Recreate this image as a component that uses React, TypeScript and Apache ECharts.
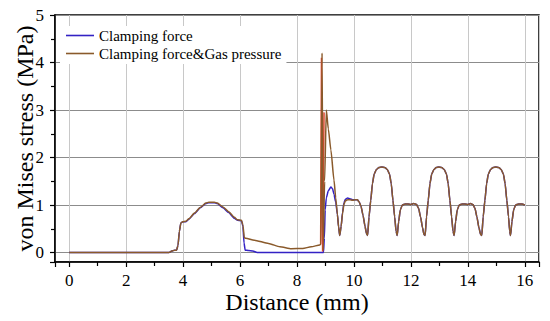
import React, { useEffect, useRef } from "react";
import * as echarts from "echarts";

const seriesNames = ["Clamping force", "Clamping force&Gas pressure"];
const xTicks = [0, 2, 4, 6, 8, 10, 12, 14, 16];
const yTicks = [0, 1, 2, 3, 4, 5];

// Clamping force only (blue), up to the first plateau
const clampingHead: [number, number][] = [
  [0, 0], [3.5, 0], [3.6, 0.03], [3.7, 0.05], [3.77, 0.05], [3.82, 0.15], [3.87, 0.45], [3.92, 0.62],
  [3.98, 0.645], [4.1, 0.65], [4.2, 0.7], [4.4, 0.82], [4.6, 0.94], [4.8, 1.03], [4.9, 1.05], [5.1, 1.05],
  [5.2, 1.03], [5.4, 0.94], [5.6, 0.84], [5.8, 0.72], [5.9, 0.68], [6.05, 0.67], [6.1, 0.55], [6.14, 0.2],
  [6.18, 0.05], [6.3, 0.04], [6.45, 0.03], [6.6, 0.0], [8.93, 0.0], [8.96, 0.3], [8.99, 0.9], [9.03, 1.15],
  [9.1, 1.3], [9.19, 1.38], [9.25, 1.34], [9.3, 1.22], [9.36, 1.06], [9.42, 0.8], [9.46, 0.54], [9.5, 0.36],
  [9.55, 0.55], [9.6, 0.85], [9.65, 1.05], [9.7, 1.12], [9.78, 1.15], [9.86, 1.13], [9.95, 1.11],
];

// Clamping force & gas pressure (brown), up to the first plateau
const gasHead: [number, number][] = [
  [0, 0], [3.5, 0], [3.6, 0.03], [3.7, 0.05], [3.77, 0.05], [3.82, 0.15], [3.87, 0.45], [3.92, 0.62],
  [3.98, 0.645], [4.1, 0.66], [4.2, 0.71], [4.4, 0.83], [4.6, 0.95], [4.8, 1.04], [4.9, 1.06], [5.1, 1.06],
  [5.2, 1.04], [5.4, 0.96], [5.6, 0.86], [5.8, 0.74], [5.9, 0.69], [6.05, 0.68], [6.1, 0.58], [6.15, 0.31],
  [6.2, 0.3], [6.5, 0.26], [7.0, 0.19], [7.4, 0.12], [7.8, 0.08], [8.2, 0.085], [8.5, 0.12], [8.8, 0.16],
  [8.84, 0.18], [8.88, 4.2], [8.92, 0.05], [8.97, 1.5], [9.03, 3.0], [9.1, 2.6], [9.19, 2.16], [9.3, 1.52],
  [9.36, 1.15], [9.42, 0.8], [9.46, 0.54], [9.5, 0.36], [9.55, 0.55], [9.6, 0.82], [9.65, 1.02], [9.7, 1.09],
  [9.78, 1.11], [9.86, 1.11], [9.95, 1.1],
];

// Red trace visible beside the spike
const spikeTrace: [number, number][] = [
  [8.83, 0.17], [8.86, 4.1], [8.9, 0.02], [8.95, 2.95],
];

// Shared periodic part (both curves coincide)
const sharedTail: [number, number][] = [
  [10.05, 1.11], [10.12, 1.11], [10.18, 1.07], [10.25, 0.97], [10.32, 0.78], [10.39, 0.55], [10.44, 0.4],
  [10.48, 0.36], [10.53, 0.75], [10.59, 1.1], [10.65, 1.45], [10.71, 1.65], [10.79, 1.75], [10.88, 1.79],
  [10.98, 1.8], [11.08, 1.79], [11.17, 1.75], [11.25, 1.65], [11.31, 1.45], [11.37, 1.1], [11.43, 0.75],
  [11.48, 0.45], [11.52, 0.36], [11.57, 0.65], [11.63, 0.9], [11.7, 1.0], [11.8, 1.02], [11.9, 1.02],
  [12.0, 1.01], [12.1, 1.03], [12.2, 1.01], [12.27, 0.93], [12.34, 0.75], [12.41, 0.52], [12.46, 0.38],
  [12.5, 0.36], [12.55, 0.75], [12.61, 1.1], [12.67, 1.45], [12.73, 1.65], [12.81, 1.75], [12.89, 1.79],
  [12.98, 1.8], [13.08, 1.79], [13.17, 1.75], [13.25, 1.65], [13.31, 1.45], [13.37, 1.1], [13.43, 0.75],
  [13.48, 0.45], [13.52, 0.36], [13.57, 0.65], [13.63, 0.9], [13.7, 1.0], [13.8, 1.02], [13.9, 1.02],
  [14.0, 1.01], [14.1, 1.03], [14.18, 1.01], [14.25, 0.93], [14.32, 0.75], [14.39, 0.52], [14.45, 0.38],
  [14.49, 0.36], [14.54, 0.75], [14.6, 1.1], [14.66, 1.45], [14.72, 1.65], [14.8, 1.75], [14.89, 1.79],
  [14.98, 1.8], [15.08, 1.79], [15.17, 1.75], [15.25, 1.65], [15.31, 1.45], [15.37, 1.1], [15.43, 0.75],
  [15.47, 0.45], [15.5, 0.36], [15.55, 0.65], [15.61, 0.9], [15.68, 1.0], [15.78, 1.02], [15.9, 1.02],
  [16.0, 1.0],
];

const FONT = "Liberation Serif";

export default function App() {
  const ref = useRef<HTMLDivElement>(null);
  useEffect(() => {
    document.body.style.margin = "0";
    const chart = echarts.init(ref.current!, null, { renderer: "svg" });
    const tickLabel = (margin: number, ticks: number[]) => ({
      show: true,
      margin,
      formatter: (v: number) => (ticks.indexOf(v) >= 0 ? String(v) : ""),
      fontFamily: FONT,
      fontSize: 17,
      color: "#000",
    });
    chart.setOption({
      animation: false,
      backgroundColor: "#fff",
      textStyle: { fontFamily: FONT, color: "#000" },
      grid: {
        left: 55,
        right: 11,
        top: 15,
        bottom: 59,
        show: true,
        borderColor: "#000",
        borderWidth: 1.5,
        backgroundColor: "transparent",
      },
      legend: {
        data: seriesNames,
        orient: "vertical",
        left: 60,
        top: 26,
        padding: [2, 5, 3, 6],
        backgroundColor: "#fff",
        icon: "rect",
        itemWidth: 28,
        itemHeight: 1.6,
        itemGap: 3,
        textStyle: { fontFamily: FONT, fontSize: 15, color: "#000", lineHeight: 12 },
        z: 10,
      },
      xAxis: {
        type: "value",
        min: -0.5,
        max: 16.5,
        splitNumber: 8,
        name: "Distance (mm)",
        nameLocation: "middle",
        nameGap: 28,
        nameMoveOverlap: false,
        nameTextStyle: { fontFamily: FONT, fontSize: 24, color: "#000" },
        axisLine: { show: true, onZero: false, lineStyle: { color: "#000", width: 1.5 } },
        axisTick: { show: true, inside: false, length: 5, lineStyle: { color: "#000", width: 1.2 } },
        minorTick: { show: true, splitNumber: 2, length: 4, lineStyle: { color: "#000", width: 1.2 } },
        axisLabel: tickLabel(10, xTicks),
        splitLine: { show: true, lineStyle: { color: "#c8c8c8", width: 1 } },
      },
      yAxis: {
        type: "value",
        min: -0.2,
        max: 5,
        splitNumber: 5,
        name: "von Mises stress (MPa)",
        nameLocation: "middle",
        nameGap: 18,
        nameMoveOverlap: false,
        nameTextStyle: { fontFamily: FONT, fontSize: 24, color: "#000" },
        axisLine: { show: true, onZero: false, lineStyle: { color: "#000", width: 1.5 } },
        axisTick: { show: true, inside: false, length: 5, lineStyle: { color: "#000", width: 1.2 } },
        minorTick: { show: true, splitNumber: 2, length: 4, lineStyle: { color: "#000", width: 1.2 } },
        axisLabel: tickLabel(11, yTicks),
        splitLine: { show: true, lineStyle: { color: "#8c8c8c", width: 1 } },
      },
      series: [
        {
          name: seriesNames[0],
          type: "line",
          data: clampingHead.concat(sharedTail),
          symbol: "none",
          smooth: 0.2,
          smoothMonotone: "x",
          lineStyle: { color: "#3322c4", width: 1.5 },
          itemStyle: { color: "#3322c4" },
          z: 2,
        },
        {
          name: "spike",
          type: "line",
          data: spikeTrace,
          symbol: "none",
          lineStyle: { color: "#e0452c", width: 1.5 },
          itemStyle: { color: "#e0452c" },
          z: 2,
        },
        {
          name: seriesNames[1],
          type: "line",
          data: gasHead.concat(sharedTail),
          symbol: "none",
          smooth: 0.2,
          smoothMonotone: "x",
          lineStyle: { color: "#8a5a2b", width: 1.5 },
          itemStyle: { color: "#8a5a2b" },
          z: 3,
        },
      ],
    });
    return () => chart.dispose();
  }, []);
  return <div ref={ref} style={{ width: 550, height: 321 }} />;
}
